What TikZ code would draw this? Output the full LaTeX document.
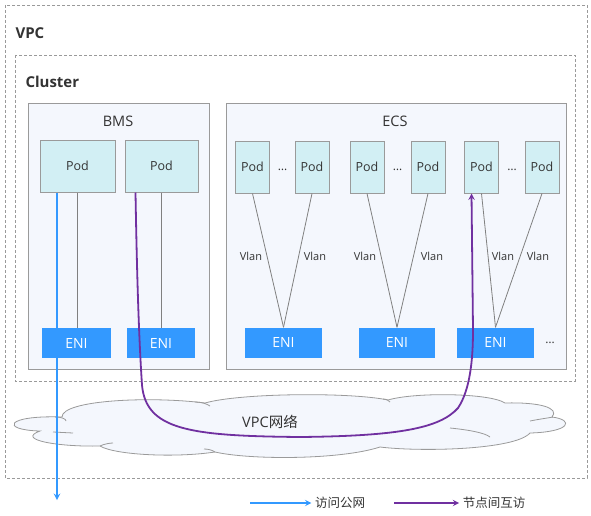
\documentclass[tikz,border=0pt]{standalone}
\usepackage{fontspec}
\setmainfont{Open Sans}
\newfontfamily\cjk{Noto Sans CJK SC}
\usetikzlibrary{positioning}
\definecolor{boxgray}{HTML}{9A9A9A}
\definecolor{hostfill}{HTML}{F4F7FD}
\definecolor{podfill}{HTML}{D2EFF4}
\definecolor{enifill}{HTML}{3399FF}
\definecolor{netpurple}{HTML}{7030A0}
\definecolor{txtgray}{HTML}{333333}

\begin{document}
\begin{tikzpicture}[x=1pt,y=-1pt,>=stealth,
  zone/.style={draw=boxgray,dash pattern=on 3pt off 2pt,line width=0.8pt},
  host/.style={draw=boxgray,fill=hostfill,line width=1pt},
  pod/.style={draw=boxgray,fill=podfill,line width=1pt,minimum height=52pt,
    inner sep=0pt,text=txtgray,font=\fontsize{12.5}{14}\selectfont},
  eni/.style={fill=enifill,minimum height=30pt,inner sep=0pt,text=white,
    font=\fontsize{14}{16}\selectfont},
  vlan/.style={text=txtgray,font=\fontsize{11}{13}\selectfont},
  dotsep/.style={text=txtgray,font=\fontsize{12}{14}\selectfont},
  link/.style={draw=gray,line width=0.8pt},
  inet/.style={draw=enifill,line width=1.8pt},
  peer/.style={draw=netpurple,line width=1.8pt}]
\useasboundingbox (0,0) rectangle (591,516);

% VPC and cluster
\draw[zone] (5,5) rectangle (587,478);
\node[text=txtgray,font=\bfseries\fontsize{15}{17}\selectfont,anchor=west] (vpcLabel) at (12,33) {VPC};
\draw[zone] (15,55) rectangle (575,381);
\node[text=txtgray,font=\bfseries\fontsize{15}{17}\selectfont,anchor=west] (clusterLabel) at (22,82) {Cluster};

% hosts
\draw[host] (28,104) rectangle (209,369);
\node[text=txtgray,font=\fontsize{14.5}{16}\selectfont] (bmsLabel) at (118,121) {BMS};
\draw[host] (226,104) rectangle (566,369);
\node[text=txtgray,font=\fontsize{14.5}{16}\selectfont] (ecsLabel) at (395,121) {ECS};

% BMS pods and ENIs
\node[pod,minimum width=75pt] (bmsPodA) at (77.5,166) {Pod};
\node[pod,minimum width=73pt] (bmsPodB) at (161.5,166) {Pod};
\node[eni,minimum width=69pt] (bmsEniA) at (76.5,343) {ENI};
\node[eni,minimum width=68pt] (bmsEniB) at (161,343) {ENI};
\draw[link] (bmsPodA.south) -- (bmsPodA.south |- bmsEniA.north);
\draw[link] (bmsPodB.south) -- (bmsPodB.south |- bmsEniB.north);

% ECS pods and ENIs
\foreach \i/\x in {1/252.5,2/312,3/367,4/428,5/481.5,6/542}
  \node[pod,minimum width=34pt] (ecsPod\i) at (\x,167) {Pod};
\node[dotsep] (dotsA) at (282.5,170) {\dots};
\node[dotsep] (dotsB) at (397.5,170) {\dots};
\node[dotsep] (dotsC) at (512,170) {\dots};
\node[eni,minimum width=77pt] (ecsEni1) at (283.5,342.5) {ENI};
\node[eni,minimum width=76pt] (ecsEni2) at (397,342.5) {ENI};
\node[eni,minimum width=77pt] (ecsEni3) at (495.5,342.5) {ENI};
\node[dotsep] (dotsD) at (550,343) {\dots};
\foreach \p/\e in {1/1,2/1,3/2,4/2,5/3,6/3}
  \draw[link] (ecsPod\p.south) -- (ecsEni\e.north);
\node[vlan] (vlanA) at (251,256) {Vlan};
\node[vlan] (vlanB) at (315,256) {Vlan};
\node[vlan] (vlanC) at (365,256) {Vlan};
\node[vlan] (vlanD) at (432,256) {Vlan};
\node[vlan] (vlanE) at (503,256) {Vlan};
\node[vlan] (vlanF) at (538,256) {Vlan};

% cloud
\draw[draw=boxgray,fill=hostfill,line width=0.8pt]
  (62,417) .. controls (62,400) and (150,396) .. (205,403)
  .. controls (240,393) and (350,392) .. (388,400)
  .. controls (415,392) and (490,393) .. (505,403)
  .. controls (540,402) and (560,408) .. (552,417)
  .. controls (575,420) and (570,432) .. (530,433)
  .. controls (515,450) and (420,452) .. (380,447)
  .. controls (340,460) and (250,460) .. (215,452)
  .. controls (175,458) and (115,455) .. (100,446)
  .. controls (60,447) and (15,440) .. (40,431)
  .. controls (0,430) and (5,415) .. (62,417) -- cycle;
\draw[draw=boxgray,line width=0.8pt] (55,417) .. controls (62,417) and (66,419) .. (66,421);
\draw[draw=boxgray,line width=0.8pt] (53,432) -- (73,433);
\draw[draw=boxgray,line width=0.8pt] (195,402) .. controls (202,402) and (207,404) .. (210,406);
\draw[draw=boxgray,line width=0.8pt] (383,399) .. controls (387,399) and (389,401) .. (390,402);
\draw[draw=boxgray,line width=0.8pt] (530,421) .. controls (540,419) and (548,418) .. (553,417);
\draw[draw=boxgray,line width=0.8pt] (450,428) .. controls (470,430) and (485,433) .. (490,437);
\draw[draw=boxgray,line width=0.8pt] (100,446) .. controls (104,444) and (110,443) .. (113,443);
\draw[draw=boxgray,line width=0.8pt] (215,452) .. controls (212,450) and (208,449) .. (204,449);
\node[text=txtgray,font=\fontsize{14.5}{16}\selectfont] (vpcNet) at (270,422) {VPC{\cjk 网络}};

% traffic
\coordinate (inetEnd) at (57,500);
\draw[inet,->] (bmsPodA.south -| inetEnd) -- (inetEnd);
\draw[peer,->] ([xshift=-26pt]bmsPodB.south)
  .. controls (137,280) and (139,340) .. (142,385)
  .. controls (146,430) and (190,436) .. (300,437)
  .. controls (400,436) and (440,428) .. (458,408)
  .. controls (470,390) and (473,360) .. (473,330)
  -- ([xshift=-10pt]ecsPod5.south);

% legend
\node[text=txtgray,font=\cjk\fontsize{12.5}{14}\selectfont] (inetKey) at (340,503) {访问公网};
\node[text=txtgray,font=\cjk\fontsize{12.5}{14}\selectfont] (peerKey) at (494,503) {节点间互访};
\coordinate (inetKeyStart) at (250,503);
\coordinate (peerKeyStart) at (394,503);
\draw[inet,->] (inetKeyStart) -- (inetKey.west);
\draw[peer,->] (peerKeyStart) -- (peerKey.west);
\end{tikzpicture}
\end{document}
